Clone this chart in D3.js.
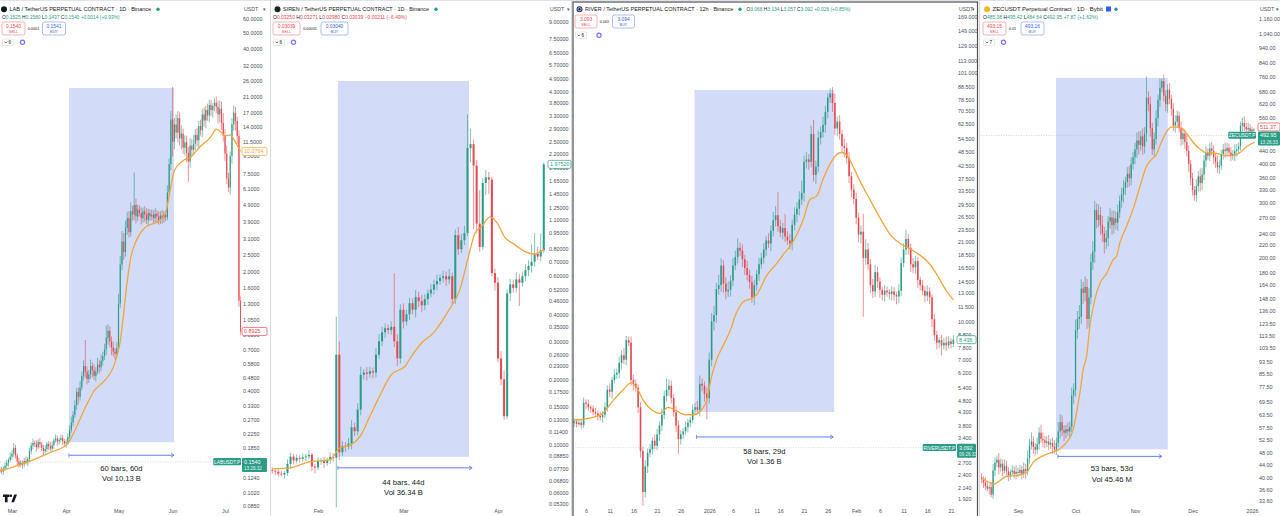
<!DOCTYPE html>
<html>
<head>
<meta charset="utf-8">
<script src="https://cdn.jsdelivr.net/npm/d3@7"></script>
<style>
  body { margin: 0; background: #fff; overflow: hidden; }
  svg { display: block; font-family: "Liberation Sans", Arial, sans-serif; }
</style>
</head>
<body>
<svg id="chart" width="1280" height="516"></svg>
<script>
// ---------- LAB / USDT, 1D ----------
const labOpen0 = 0.140;
const labClose = [
  0.138,0.135,0.141,0.146,0.152,0.158,0.165,0.172,0.186,0.168,
  0.155,0.148,0.152,0.149,0.156,0.153,0.160,0.178,0.192,0.199,
  0.196,0.188,0.201,0.195,0.186,0.178,0.183,0.196,0.190,0.184,
  0.193,0.205,0.211,0.203,0.207,0.212,0.204,0.198,0.201,0.215,
  0.238,0.262,0.290,0.330,0.395,0.370,0.420,0.490,0.560,0.520,
  0.470,0.500,0.560,0.530,0.490,0.520,0.570,0.550,0.600,0.640,
  0.700,0.820,0.900,0.780,0.720,0.680,0.660,0.710,1.300,2.200,
  3.000,2.600,3.600,4.100,3.400,4.500,4.300,4.900,4.200,4.600,
  4.400,4.100,4.500,4.300,4.000,4.400,4.200,4.300,4.100,4.350,
  4.200,4.000,4.250,4.100,4.300,4.150,5.800,8.500,15.50,11.50,
  14.50,13.00,15.80,12.00,12.80,10.60,11.40,9.900,8.800,10.90,
  10.30,11.20,12.60,11.70,14.20,13.40,16.60,15.30,17.60,16.40,
  18.80,17.60,18.60,19.40,18.40,16.60,17.90,14.80,12.50,9.800,
  7.000,6.200,9.500,14.50,17.00,15.20,12.40,1.350,0.8925
];
// wick length above / below the body, in percent
const labUp = [
  3,4,3,5,4,3,6,5,7,4, 3,5,4,3,4,6,3,5,4,6, 3,5,4,6,3,4,5,3,4,6, 5,3,6,4,3,5,4,3,4,5,
  6,8,5,7,5,6,9,6,8,42, 7,6,9,5,8,6,10,7,9,6, 8,18,9,6,7,8,5,9,14,12, 15,12,10,9,10,13,8,55,9,7,
  6,8,5,7,9,6,5,7,6,8, 5,7,6,8,5,6,10,8,12,55, 9,14,10,8,12,7,10,9,8,11, 9,12,8,10,7,9,8,10,6,9,
  8,7,4,6,9,8,12,10,14,9, 11,8,6,9,10,8,6,8,6
];
const labDn = [
  4,3,5,3,4,5,3,4,5,4, 5,4,3,6,4,3,5,3,4,5, 4,6,3,5,4,6,3,4,5,3, 4,5,3,6,4,3,5,4,6,3,
  3,4,5,4,6,10,5,4,6,8, 7,5,6,9,5,7,4,8,5,6, 5,7,9,8,10,6,7,5,4,6, 8,10,6,9,7,6,8,7,9,6,
  5,8,6,9,5,7,6,5,7,6, 8,6,5,7,6,5,4,5,8,18, 10,8,12,9,14,8,10,12,24,8, 10,7,9,8,11,7,9,8,10,7,
  9,8,10,7,8,12,10,9,8,10, 7,6,9,10,8,12,10,8,5
];
const labMA = [[0,0.136],[17,0.155],[29,0.175],[39,0.197],[43,0.235],[49,0.32],[54,0.40],[60,0.46],
  [65,0.55],[67,0.64],[69,0.78],[71,1.15],[73,1.75],[75,2.4],[78,3.0],[83,3.6],[92,4.0],[95,4.4],
  [98,6.3],[100,7.8],[105,8.9],[109,9.3],[115,10.8],[121,12.3],[124,13.6],[127,13.0],[129,12.4],
  [132,12.6],[135,11.4],[138,10.0764]];
const labTicks = [60,50,40,32,26,21,17,14,11.5,9.5,7.5,6.1,4.9,3.9,3.1,2.5,2.0,1.6,1.3,1.05,0.85,
  0.7,0.58,0.48,0.4,0.33,0.27,0.225,0.185,0.152,0.124,0.102,0.085];
const labMonthIdx = [7,38,68,99,129];
const labMonths = ["Mar","Apr","May","Jun","Jul"];
const labRange = [39.6, 99.8, 23.7, 0.2006, 39.6, 99.8];
const labRangeText = ["60 bars, 60d", "Vol 10.13 B"];

// ---------- SIREN / USDT, 1D ----------
const sirenOpen0 = 0.0760;
const sirenClose = [
  0.0755,0.0748,0.0732,0.0725,0.0738,0.0812,0.0878,0.0842,0.0865,0.0858,
  0.0872,0.0880,0.0895,0.0790,0.0782,0.0838,0.0842,0.0820,0.0845,0.0875,
  0.0868,0.2600,0.0920,0.0985,0.0975,0.1010,0.1200,0.1150,0.1450,0.2100,
  0.2150,0.2120,0.2180,0.2150,0.2600,0.3000,0.3300,0.3450,0.3380,0.3500,
  0.3000,0.2500,0.4200,0.3700,0.4000,0.4500,0.4200,0.4800,0.4600,0.4400,
  0.4700,0.5000,0.5200,0.5500,0.5700,0.5900,0.6000,0.5800,0.6000,0.4700,
  0.9300,0.8000,0.8800,0.9500,2.3500,2.4500,1.9500,1.0500,0.8200,1.6200,
  1.7200,1.6800,0.6200,0.5600,0.2500,0.2000,0.1350,0.5000,0.5500,0.5300,
  0.5800,0.5600,0.6000,0.6400,0.6700,0.7000,0.7600,0.7400,0.7900,1.9752
];
const sirenUp = [
  3,2,4,3,2,5,4,3,4,3, 4,3,5,2,3,4,3,4,3,5, 4,50,15,5,4,6,8,5,7,9, 4,6,5,4,7,8,6,5,4,6,
  77,8,6,7,5,6,5,8,6,7, 5,4,6,5,7,4,6,5,8,4, 6,9,7,8,43,18,5,6,43,5, 8,6,3,5,6,8,10,4,6,5,
  8,6,5,7,6,20,25,8,20,2
];
const sirenDn = [
  3,4,3,2,4,3,5,4,3,4, 3,4,3,5,6,3,4,5,3,4, 4,41,8,4,5,3,6,5,4,6, 5,7,4,6,5,4,5,6,4,5,
  6,8,5,7,4,6,5,8,6,7, 5,6,4,5,6,4,5,7,5,6, 5,6,4,5,3,14,49,9,5,3, 12,14,3,8,4,6,4,3,8,5,
  5,22,4,5,6,7,5,4,5,3
];
const sirenMA = [[0,0.077],[6,0.078],[12,0.083],[19,0.085],[22,0.096],[26,0.1],[29,0.11],[32,0.135],
  [35,0.165],[39,0.21],[43.5,0.23],[46,0.26],[48.5,0.29],[53,0.33],[58,0.42],[61.5,0.52],[64,0.71],
  [66.5,0.95],[68.7,1.02],[71.4,1.13],[73.7,1.06],[76.2,0.91],[79.5,0.84],[82.8,0.78],[86,0.76],[89,0.8]];
const sirenTicks = [9,7.5,6.5,5.7,4.9,4.3,3.8,3.3,2.9,2.5,2.2,1.9,1.65,1.45,1.25,1.1,0.95,0.8,0.7,0.6,
  0.52,0.46,0.4,0.35,0.3,0.26,0.23,0.2,0.175,0.15,0.13,0.114,0.1,0.0885,0.077,0.068,0.06,0.053];
const sirenMonthIdx = [15,43,74];
const sirenMonths = ["Feb","Mar","Apr"];
const sirenRange = [21.5, 64.5, 4.80, 0.0876, 21.5, 65.5];
const sirenRangeText = ["44 bars, 44d", "Vol 36.34 B"];

// ---------- RIVER / USDT, 12h ----------
const riverOpen0 = 3.90;
const riverClose = [
  3.95,3.85,3.90,3.82,4.70,4.65,4.50,4.45,4.30,4.25,
  4.15,4.10,4.20,4.50,5.30,5.20,5.80,6.10,6.20,6.80,
  7.30,7.00,8.40,8.20,5.80,5.60,5.40,4.50,3.00,2.05,
  2.60,2.95,3.05,3.30,3.15,3.50,3.80,4.20,5.00,5.30,
  5.50,4.90,4.30,3.80,3.35,3.50,3.60,3.75,3.90,4.00,
  4.40,4.50,4.40,5.60,5.50,5.10,4.90,7.00,10.0,10.6,
  13.5,14.0,16.8,14.2,13.2,13.4,14.6,16.8,18.2,19.8,
  19.3,17.8,16.4,15.4,14.4,12.5,14.0,15.5,17.0,18.0,
  19.5,21.2,20.6,23.2,25.6,26.8,24.2,22.8,23.8,22.0,
  21.2,20.6,24.5,27.0,28.5,31.0,33.0,44.0,45.0,44.0,
  57.0,39.0,42.0,55.0,58.0,62.0,70.0,80.0,83.0,76.0,
  60.0,64.0,57.0,51.0,50.0,45.5,38.5,34.0,31.2,26.2,
  22.4,23.0,18.0,19.5,17.0,14.0,13.2,15.8,14.5,13.4,
  12.8,13.3,13.1,12.9,13.2,12.8,12.6,13.3,17.2,19.5,
  21.5,19.8,17.0,16.5,17.5,14.7,14.0,13.3,12.7,13.2,
  12.5,10.2,8.80,8.20,8.40,8.00,8.20,8.00,8.30,8.10,8.436
];
const riverUp = [
  3,2,4,3,5,3,4,2,3,4, 3,4,3,5,4,6,3,5,4,6, 5,7,4,3,6,5,4,3,5,4, 6,4,5,3,6,5,4,6,5,11,
  6,5,4,6,5,4,3,5,4,3, 5,4,6,8,5,4,6,7,8,9, 6,10,7,5,6,8,5,7,6,9, 5,6,4,7,5,6,5,4,6,5,
  6,4,7,5,8,9,24,6,5,14, 5,6,5,7,6,8,12,6,7,5, 8,14,6,7,5,8,6,4,5,6, 9,5,6,4,7,5,6,4,5,6,
  5,6,18,10,6,5,6,7,5,4, 3,5,4,3,5,4,3,6,5,6, 9,5,4,6,5,4,3,5,4,6, 4,3,5,4,3,5,4,6,5,3,4
];
const riverDn = [
  4,3,2,4,3,5,3,4,3,2, 4,3,5,3,4,5,6,3,4,5, 6,4,5,3,5,6,4,5,6,12, 5,6,4,5,3,4,6,5,4,5,
  6,5,4,6,13,5,4,3,5,4, 3,5,4,6,5,7,18,5,6,8, 7,5,6,8,7,5,6,5,4,6, 5,7,6,5,6,5,7,5,6,4,
  5,6,4,7,5,6,5,4,6,5, 4,5,6,5,7,6,5,8,6,7, 5,6,8,5,6,5,7,6,5,8, 6,7,5,6,8,5,6,7,5,6,
  7,8,42,6,5,7,6,5,6,7, 5,6,4,5,6,5,7,6,5,4, 5,6,7,5,6,7,5,4,6,5, 6,7,5,6,5,9,4,5,3,4,3
];
const riverMA = [[0,4.0],[8,4.1],[12,4.25],[16.5,4.8],[20.7,5.3],[24,5.65],[26.4,5.4],[29.2,4.8],
  [33.4,4.35],[36.2,4.25],[39.7,4.5],[43.2,4.35],[46.8,4.2],[50.3,4.2],[53.8,4.4],[55.9,4.8],[58,6.0],
  [60.1,7.0],[62.9,8.0],[65.7,9.1],[68.6,10.9],[71.4,12.0],[74.9,12.4],[77,12.8],[81.2,15.3],
  [85.4,17.1],[88.2,18.6],[91,20],[96.7,25.8],[99.5,31],[102.3,32],[105.1,37.6],[107.9,43],
  [110.7,47],[112.8,48],[114.9,47],[117.8,42],[120.6,36.8],[124.8,31],[129,26.2],[133.2,22.5],
  [137.5,20.6],[141.7,19.6],[145.9,18.5],[150.1,17],[152.9,15.5],[157.2,13.2],[160,12.2]];
const riverTicks = [169,149,129,113,101,88.5,78.5,70.5,62.5,54.5,48.5,42.5,37.5,33.5,29.5,26.5,23.5,
  21,18.5,16.5,14.5,13,11.5,10,8.8,7.8,7,6.2,5.4,4.8,4.3,3.8,3.4,3.0,2.7,2.4,2.14,1.92];
const riverDayIdx = [5,15,25,35,45,57,67,77,87,97,107,119,129,139,149,159];
const riverDays = ["6","11","16","21","26","2026","6","11","16","21","26","Feb","6","11","16","21"];
const riverRange = [50.8, 109.7, 85.8, 4.31, 51.6, 109.3];
const riverRangeText = ["58 bars, 29d", "Vol 1.36 B"];

// ---------- ZECUSDT, 1D ----------
const zecOpen0 = 40.0;
const zecClose = [
  39.5,38.5,37.5,36.8,37.2,35.2,42.0,44.5,45.5,43.0,
  44.2,42.0,43.5,41.8,40.5,41.5,42.0,41.0,41.6,41.3,
  42.2,41.0,42.5,41.8,46.0,50.5,52.0,50.0,49.0,51.0,
  55.5,53.0,52.5,51.5,52.0,50.8,51.5,50.0,49.0,51.5,
  56.0,60.0,56.5,55.5,57.0,56.0,58.0,73.0,76.0,118,
  128,130,160,155,162,128,150,195,210,285,
  265,275,255,240,225,232,262,270,255,268,
  260,280,305,320,335,350,372,360,400,420,
  445,475,460,490,455,500,650,620,520,445,
  480,560,640,700,735,660,620,690,645,600,
  530,545,570,520,480,500,470,440,400,360,
  330,318,340,365,348,370,410,435,425,448,
  440,420,405,390,395,430,445,440,450,435,
  425,430,440,445,455,530,540,525,515,520,
  508,515,511.37
];
const zecUp = [
  3,2,4,3,2,4,5,4,3,5, 4,3,5,4,3,2,4,3,5,3, 4,3,5,4,6,5,7,4,3,5, 4,6,5,3,4,5,3,4,5,4,
  7,6,5,4,3,5,4,6,5,8, 6,9,7,5,8,6,7,6,8,7, 5,8,6,7,5,6,4,7,5,6, 5,6,4,5,6,4,5,6,5,4,
  5,6,7,4,6,5,17,5,6,4, 5,6,4,7,2,5,4,4,5,3, 4,5,4,3,5,4,3,5,4,3, 4,3,5,4,6,5,4,5,3,4,
  5,4,3,5,4,3,4,5,4,3, 4,3,5,4,3,3,4,5,3,4, 3,2,1
];
const zecDn = [
  3,4,3,2,4,2,3,4,3,5, 3,4,2,3,4,3,2,3,4,3, 2,4,3,5,3,4,3,5,4,3, 4,3,5,4,3,4,3,5,3,4,
  3,5,4,6,4,3,5,4,6,5, 6,7,5,8,6,7,6,5,6,8, 6,5,7,6,8,5,6,5,7,6, 5,6,4,5,6,5,4,6,5,4,
  5,6,7,4,6,5,6,5,6,4, 5,4,6,5,3,4,5,6,4,5, 4,5,4,3,5,4,5,4,6,5, 4,4,5,4,6,5,4,5,3,4,
  3,5,4,4,5,3,4,5,4,3, 4,3,5,4,3,3,4,3,4,5, 3,2,1
];
const zecMA = [[0,39.7],[4.4,38.4],[6.2,38],[9.6,39],[13.1,40.3],[18.3,40.5],[23.5,41.5],[27,44.7],
  [32.2,46.9],[37.4,48.2],[40.9,49.3],[44.4,51.8],[47.8,56.9],[49.6,64.6],[51.3,74.6],[53,88.6],
  [54.8,97.5],[56.5,122],[59.1,148],[61.7,166],[65.2,179],[68.7,198],[70.4,203],[72.1,224],
  [75.6,253],[79.1,288],[82.6,339],[86,393],[88.6,413],[91.2,430],[93.8,470],[96.4,506],[99,524],
  [101.6,524],[104.3,520],[106.9,500],[110.3,469],[113.8,446],[117.3,434],[120.7,434],[124.2,430],
  [127.7,425],[131.2,425],[134.6,434],[138.1,454],[142.4,469]];
const zecTicks = [1160,1040,940,840,760,680,620,560,500,440,400,360,330,300,270,240,220,200,180,164,
  148,136,123.5,113.5,103.5,93.5,85.5,77.5,69.5,63.5,57.5,52.5,48,44,40,36.6,33.6];
const zecMonthIdx = [19,49,80,110,141];
const zecMonths = ["Sep","Oct","Nov","Dec","2026"];
const zecRange = [38.8, 97.1, 752, 49.1, 39.8, 94.0];
const zecRangeText = ["53 bars, 53d", "Vol 45.46 M"];

// ---------- headers ----------
const titles = [
  "LAB / TetherUS PERPETUAL CONTRACT · 1D · Binance",
  "SIREN / TetherUS PERPETUAL CONTRACT · 1D · Binance",
  "RIVER / TetherUS PERPETUAL CONTRACT · 12h · Binance",
  "ZECUSDT Perpetual Contract · 1D · Bybit"
];
const ohlc = [
  ["0.1525","0.1580","0.1437","0.1540","+0.0014 (+0.93%)"],
  ["0.03250","0.03271","0.02980","0.03039","−0.00211 (−6.49%)"],
  ["3.068","3.134","3.057","3.092","+0.026 (+0.85%)"],
  ["485.08","495.42","484.64","492.95","+7.87 (+1.62%)"]
];
const quotes = [["0.1540","0.0001","0.1541"],["0.03039","0.00001","0.03040"],
  ["3.093","0.001","3.094"],["493.15","0.01","493.16"]];
const indicatorCount = ["6","6","6","7"];
const symbols = ["LABUSDT.P","","RIVERUSDT.P","ZECUSDT.P"];
const lastPrice = [0.1540, 0.03039, 3.092, 492.95];
const countdown = ["13:26:32","","09:26:33","13:26:33"];

// ---------- drawing ----------
const UP = "#2b9c86", DOWN = "#e8484f", MA_COL = "#f2a53a", RANGE_FILL = "#d2dbf8",
      ARROW = "#5f7fe8", TEXT = "#131722", GREY = "#4a4f5c";
const svg = d3.select("#chart");

// scale a text's font size so that its natural width becomes `target`
function fitWidth(sel, target) {
  const node = sel.node();
  const w = node.getComputedTextLength();
  if (w > 0) sel.attr("font-size", +sel.attr("font-size") * target / w);
  return sel;
}

const panels = [
  { id: "lab", left: 0, right: 241, axisX: 243, axisW: 26, xDom: [7,129], xRng: [12,225],
    yDom: [0.085,60], yRng: [506,19], fmt: d3.format(".4f"), open0: labOpen0, close: labClose,
    up: labUp, dn: labDn, ma: labMA, ticks: labTicks, xIdx: labMonthIdx, xLab: labMonths,
    range: labRange, rangeText: labRangeText, arrowDy: 13, textDy: [27,37], maLabel: true },
  { id: "siren", left: 271, right: 546, axisX: 549, axisW: 24, xDom: [15,74], xRng: [318,498],
    yDom: [0.053,9], yRng: [504,22], fmt: d3.format(".5f"), open0: sirenOpen0, close: sirenClose,
    up: sirenUp, dn: sirenDn, ma: sirenMA, ticks: sirenTicks, xIdx: sirenMonthIdx, xLab: sirenMonths,
    range: sirenRange, rangeText: sirenRangeText, arrowDy: 11, textDy: [26,36] },
  { id: "river", left: 573, right: 956, axisX: 958, axisW: 20, xDom: [5,159], xRng: [586,951],
    yDom: [1.92,169], yRng: [499,17], fmt: d3.format(".3f"), open0: riverOpen0, close: riverClose,
    up: riverUp, dn: riverDn, ma: riverMA, ticks: riverTicks, xIdx: riverDayIdx, xLab: riverDays,
    range: riverRange, rangeText: riverRangeText, arrowDy: 25, textDy: [40,50] },
  { id: "zec", left: 981, right: 1256, axisX: 1259, axisW: 23, xDom: [19,141], xRng: [1018,1252],
    yDom: [33.6,1160], yRng: [501,19], fmt: d3.format(",.2f"), open0: zecOpen0, close: zecClose,
    up: zecUp, dn: zecDn, ma: zecMA, ticks: zecTicks, xIdx: zecMonthIdx, xLab: zecMonths,
    range: zecRange, rangeText: zecRangeText, arrowDy: 7, textDy: [20,31] }
];

// frame and separators
svg.append("line").attr("x1", 0).attr("x2", 1280).attr("y1", 0.5).attr("y2", 0.5).attr("stroke", "#e0e3eb");
[270.5, 571.5, 979.5].forEach(sx => svg.append("line").attr("x1", sx).attr("x2", sx)
  .attr("y1", 0).attr("y2", 516).attr("stroke", "#d6d9e0"));

panels.forEach((p, k) => {
  const x = d3.scaleLinear().domain(p.xDom).range(p.xRng);
  const y = d3.scaleLog().domain(p.yDom).range(p.yRng);
  const step = x(1) - x(0);
  const bw = Math.max(1, step * 0.66);

  svg.append("clipPath").attr("id", "clip-" + p.id).append("rect")
    .attr("x", p.left).attr("y", 0).attr("width", p.right - p.left).attr("height", 509);
  const g = svg.append("g").attr("clip-path", `url(#clip-${p.id})`);

  // date range tool, background
  const r = p.range;
  const rx0 = x(r[0]), rx1 = x(r[1]), ry0 = y(r[2]), ry1 = y(r[3]);
  g.append("rect").attr("x", rx0).attr("y", ry0).attr("width", rx1 - rx0).attr("height", ry1 - ry0)
    .attr("fill", RANGE_FILL);

  // current price line
  const lp = lastPrice[k];
  const lpVisible = lp >= p.yDom[0] && lp <= p.yDom[1];
  if (lpVisible) {
    g.append("line").attr("x1", p.left).attr("x2", p.right).attr("y1", y(lp)).attr("y2", y(lp))
      .attr("stroke", "#b8bcc6").attr("stroke-width", 0.6).attr("stroke-dasharray", "1,1.5");
  }

  // candles
  const candles = p.close.map((c, i) => {
    const o = i ? p.close[i - 1] : p.open0;
    const hi = Math.max(o, c), lo = Math.min(o, c);
    return { i, o, c, h: hi * (1 + p.up[i] / 100), l: lo * (1 - p.dn[i] / 100) };
  });
  const cg = g.selectAll("g.candle").data(candles).enter().append("g")
    .attr("fill", d => d.c >= d.o ? UP : DOWN).attr("stroke", d => d.c >= d.o ? UP : DOWN);
  cg.append("line")
    .attr("x1", d => x(d.i)).attr("x2", d => x(d.i))
    .attr("y1", d => y(d.h)).attr("y2", d => y(d.l))
    .attr("stroke-width", 0.6);
  cg.append("rect")
    .attr("x", d => x(d.i) - bw / 2).attr("width", bw)
    .attr("y", d => y(Math.max(d.o, d.c)))
    .attr("height", d => Math.max(0.7, y(Math.min(d.o, d.c)) - y(Math.max(d.o, d.c))))
    .attr("stroke", "none");

  // moving average
  g.append("path").datum(p.ma)
    .attr("d", d3.line().x(d => x(d[0])).y(d => y(d[1])).curve(d3.curveMonotoneX))
    .attr("fill", "none").attr("stroke", MA_COL).attr("stroke-width", 1.3);

  // range arrow and label
  const ay = ry1 + p.arrowDy, ax0 = x(r[4]), ax1 = x(r[5]);
  g.append("line").attr("x1", ax0).attr("x2", ax1).attr("y1", ay).attr("y2", ay)
    .attr("stroke", ARROW).attr("stroke-width", 1);
  g.append("line").attr("x1", ax0).attr("x2", ax0).attr("y1", ay - 2).attr("y2", ay + 2)
    .attr("stroke", ARROW).attr("stroke-width", 0.8);
  g.append("path").attr("d", `M${ax1 - 3},${ay - 2}L${ax1},${ay}L${ax1 - 3},${ay + 2}`)
    .attr("fill", "none").attr("stroke", ARROW).attr("stroke-width", 0.9);
  p.rangeText.forEach((t, j) => {
    svg.append("text").attr("x", (rx0 + rx1) / 2).attr("y", ry1 + p.textDy[j])
      .attr("text-anchor", "middle").attr("dominant-baseline", "middle")
      .attr("font-size", 7.6).attr("fill", TEXT).text(t);
  });

  // price axis
  const ya = svg.append("g").attr("transform", `translate(${p.axisX},0)`)
    .call(d3.axisRight(y).tickValues(p.ticks).tickFormat(p.fmt).tickSize(0).tickPadding(0));
  ya.select(".domain").remove();
  ya.selectAll("text").attr("font-size", 5.4).attr("fill", GREY)
    .attr("font-family", "Liberation Sans, Arial, sans-serif");
  svg.append("text").attr("x", p.axisX + 1).attr("y", 11).attr("font-size", 5.2).attr("fill", GREY).text("USDT");
  svg.append("text").attr("x", p.axisX + p.axisW - 6).attr("y", 11).attr("font-size", 5).attr("fill", GREY).text("▾");

  // time axis
  const xa = svg.append("g").attr("transform", "translate(0,509)")
    .call(d3.axisBottom(x).tickValues(p.xIdx).tickFormat((d, j) => p.xLab[j]).tickSize(0).tickPadding(0));
  xa.select(".domain").remove();
  xa.selectAll("text").attr("font-size", 5.4).attr("fill", GREY)
    .attr("font-family", "Liberation Sans, Arial, sans-serif");

  // axis price labels
  const lpTop = lpVisible ? y(lp) - 4 : Infinity;
  const lastClose = p.close[p.close.length - 1];
  const outlineLabel = (v, col, txt) => {
    let yy = y(v);
    if (yy + 4 > lpTop - 0.5 && yy < lpTop + 14) yy = lpTop - 4.5;   // keep clear of the live price box
    svg.append("rect").attr("x", p.axisX - 1).attr("y", yy - 4).attr("width", p.axisW - 1).attr("height", 8)
      .attr("rx", 1.5).attr("fill", "#fff").attr("stroke", col).attr("stroke-width", 0.7);
    svg.append("text").attr("x", p.axisX + 1).attr("y", yy + 2).attr("font-size", 5.4).attr("fill", col).text(txt);
  };
  if (p.maLabel) {
    const mv = p.ma[p.ma.length - 1][1];
    outlineLabel(mv, MA_COL, d3.format(".4f")(mv));
  }
  outlineLabel(lastClose, lastClose >= p.close[p.close.length - 2] ? UP : DOWN, p.fmt(lastClose));

  if (lpVisible) {
    const yy = y(lp);
    const sw = symbols[k].length * 2.75 + 3;
    svg.append("rect").attr("x", p.right - sw).attr("y", yy - 3.8).attr("width", sw).attr("height", 7.2)
      .attr("rx", 1).attr("fill", UP);
    svg.append("text").attr("x", p.right - sw / 2).attr("y", yy + 1.8).attr("text-anchor", "middle")
      .attr("font-size", 4.8).attr("fill", "#fff").text(symbols[k]);
    svg.append("rect").attr("x", p.axisX - 1).attr("y", yy - 4).attr("width", p.axisW - 1).attr("height", 14)
      .attr("rx", 1).attr("fill", UP);
    svg.append("text").attr("x", p.axisX + 1).attr("y", yy + 2).attr("font-size", 5.4).attr("fill", "#fff").text(p.fmt(lp));
    svg.append("text").attr("x", p.axisX + 1).attr("y", yy + 8.3).attr("font-size", 4.6).attr("fill", "#e6f4f1").text(countdown[k]);
  }

  // header
  drawHeader(k, p.left);
});

function drawHeader(k, x0) {
  const inline = k === 2;
  const lx = x0 + (k === 0 ? 4 : k === 3 ? 6 : 6.5);
  const logoCol = ["#131722", "#1f232b", "#1d2b64", "#f3b629"][k];
  svg.append("circle").attr("cx", lx).attr("cy", 9.2).attr("r", 3).attr("fill", logoCol);
  if (k === 2) svg.append("circle").attr("cx", lx).attr("cy", 9.2).attr("r", 1.7).attr("fill", "none")
    .attr("stroke", "#fff").attr("stroke-width", 0.6);
  const titleW = [141.5, 146, 148, 110.5][k];
  const tx = lx + 5.5;
  fitWidth(svg.append("text").attr("x", tx).attr("y", 11.4).attr("font-size", 6.2).attr("fill", TEXT)
    .text(titles[k]), titleW);
  let dotX = tx + titleW + 7;
  if (k === 3) {
    svg.append("rect").attr("x", tx + titleW + 3).attr("y", 6.5).attr("width", 5).attr("height", 5)
      .attr("fill", "#2962ff");
    dotX = tx + titleW + 13;
  }
  svg.append("circle").attr("cx", dotX).attr("cy", 9.2).attr("r", 1.7).attr("fill", "#1f9e80");

  const col = ohlc[k][4][0] === "+" ? UP : DOWN;
  const ox = inline ? dotX + 6.5 : x0 + 2;
  const oy = inline ? 11.2 : 19.2;
  const ot = svg.append("text").attr("x", ox).attr("y", oy).attr("font-size", 4.6);
  ["O","H","L","C"].forEach((lbl, j) => {
    ot.append("tspan").attr("fill", TEXT).text((j ? " " : "") + lbl);
    ot.append("tspan").attr("fill", col).text(ohlc[k][j]);
  });
  ot.append("tspan").attr("fill", col).text(" " + ohlc[k][4]);
  fitWidth(ot, [118, 134, 104, 115][k]);

  // sell / buy buttons
  const by = inline ? 15 : 22;
  const bw = [23, 27, 22, 23][k];
  const q = quotes[k];
  const sx = x0 + 2;
  const mx = sx + bw + [2.5, 3, 2.5, 3][k];
  const midW = [12, 14, 10, 7][k];
  const bx = mx + midW + [3, 4, 3, 5][k];
  [[sx, q[0], "SELL", DOWN], [bx, q[2], "BUY", "#3d63dd"]].forEach(([bxx, v, lbl, c]) => {
    svg.append("rect").attr("x", bxx).attr("y", by).attr("width", bw).attr("height", 13).attr("rx", 2)
      .attr("fill", "#fff").attr("stroke", c).attr("stroke-width", 0.6).attr("stroke-opacity", 0.7);
    svg.append("text").attr("x", bxx + bw / 2).attr("y", by + 5.6).attr("text-anchor", "middle")
      .attr("font-size", 4.9).attr("fill", c).text(v);
    svg.append("text").attr("x", bxx + bw / 2).attr("y", by + 10.8).attr("text-anchor", "middle")
      .attr("font-size", 3.8).attr("fill", c).text(lbl);
  });
  svg.append("text").attr("x", mx + midW / 2).attr("y", by + 8).attr("text-anchor", "middle")
    .attr("font-size", 3.8).attr("fill", TEXT).text(q[1]);

  // indicators toggle and settings
  const iy = inline ? 32 : 39;
  svg.append("rect").attr("x", x0 + 2.5).attr("y", iy).attr("width", 11).attr("height", 6.5).attr("rx", 1)
    .attr("fill", "#fff").attr("stroke", "#d1d4dc").attr("stroke-width", 0.5);
  svg.append("path").attr("d", `M${x0 + 4.6},${iy + 2.6}l1.3,1.4l1.3,-1.4`)
    .attr("fill", "none").attr("stroke", TEXT).attr("stroke-width", 0.6);
  svg.append("text").attr("x", x0 + 8.6).attr("y", iy + 5).attr("font-size", 4.6).attr("fill", TEXT)
    .text(indicatorCount[k]);
  svg.append("circle").attr("cx", x0 + (k === 2 ? 26 : 22.5)).attr("cy", iy + 3.2).attr("r", 2.1)
    .attr("fill", "none").attr("stroke", "#7e6ff0").attr("stroke-width", 1.2);
}

// active panel frame (RIVER)
svg.append("rect").attr("x", 573).attr("y", 2).attr("width", 404.5).attr("height", 520)
  .attr("fill", "none").attr("stroke", "#505050").attr("stroke-width", 1.2);

// TradingView mark
const tv = svg.append("g").attr("fill", TEXT);
tv.append("path").attr("d", "M3,494.5h6.5v2.6h-1.9v5.2h-2.7v-5.2h-1.9z");
tv.append("circle").attr("cx", 10.9).attr("cy", 495.8).attr("r", 1.3);
tv.append("path").attr("d", "M11.3,502.3l2.9,-7.8h2.8l-2.9,7.8z");
</script>
</body>
</html>
